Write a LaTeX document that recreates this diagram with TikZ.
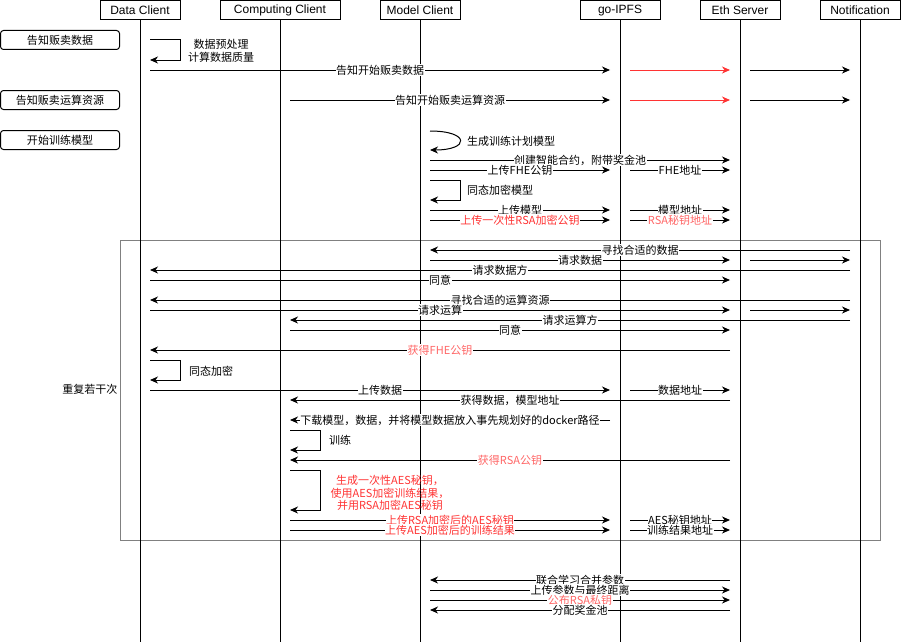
\documentclass[tikz,border=0pt]{standalone}
\usepackage{fontspec}
\setmainfont{Noto Sans CJK SC}
\newfontfamily\headfont{Liberation Sans}
\usetikzlibrary{arrows.meta}
\definecolor{msgred}{HTML}{FF3333}
\definecolor{msgpink}{HTML}{FF6666}
\definecolor{loopgray}{HTML}{808080}

\begin{document}
\begin{tikzpicture}[x=1pt,y=-1pt]
	\useasboundingbox (0,0) rectangle (901,642);
	\tikzstyle{actor}=[draw,line width=1pt,minimum width=80pt,minimum height=19pt,inner sep=0pt,font=\headfont\fontsize{12}{14}\selectfont]
	\tikzstyle{note}=[draw,rounded corners=3pt,line width=1pt,minimum width=119pt,minimum height=19pt,inner sep=0pt,font=\fontsize{11}{13}\selectfont]
	\tikzstyle{msg}=[line width=1pt,-{Stealth[length=8pt,width=7pt,inset=2.5pt]}]
	\tikzstyle{plain}=[line width=1pt]
	\tikzstyle{lbl}=[fill=white,inner sep=0.5pt,font=\fontsize{11}{13}\selectfont]
	\tikzstyle{side}=[inner sep=0pt,font=\fontsize{11}{13}\selectfont]
	% actors
	\node[actor] (dc) at (140,10.5) {Data Client};
	\node[actor,minimum width=120pt] (cc) at (280,10.5) {Computing Client};
	\node[actor] (mc) at (420,10.5) {Model Client};
	\node[actor] (ipfs) at (620,10.5) {go-IPFS};
	\node[actor] (eth) at (740,10.5) {Eth Server};
	\node[actor] (noti) at (860,10.5) {Notification};
	% notes on the left
	\node[note] (sell) at (60,40) {告知贩卖数据};
	\node[note] (sellres) at (60,100) {告知贩卖运算资源};
	\node[note] (train) at (60,140) {开始训练模型};
	% loop frame
	\node[draw=loopgray,line width=1pt,minimum width=760pt,minimum height=300pt,inner sep=0pt] (rep) at (500,390) {};
	\node[side,anchor=east] (repname) at ([xshift=-2pt,yshift=1pt]rep.west) {重复若干次};
	% lifelines
	\foreach \a in {dc,cc,mc,ipfs,eth,noti}
		\draw[plain] (\a.south) -- (\a.south |- 0,642);

	% selling data and resources
	\draw[msg] ([xshift=10]dc |- 0,40) -- ++(30,0) -- ++(0,20) -- ++(-30,0);
	\node[side,align=center] (prep) at (221,51) {数据预处理\\计算数据质量};
	\draw[msg] ([xshift=10]dc |- 0,70) -- node[lbl]{告知开始贩卖数据} ([xshift=-10]ipfs |- 0,70);
	\draw[msg,msgred] ([xshift=10]ipfs |- 0,70) -- ([xshift=-10]eth |- 0,70);
	\draw[msg] ([xshift=10]eth |- 0,70) -- ([xshift=-10]noti |- 0,70);
	\draw[msg] ([xshift=10]cc |- 0,100) -- node[lbl]{告知开始贩卖运算资源} ([xshift=-10]ipfs |- 0,100);
	\draw[msg,msgred] ([xshift=10]ipfs |- 0,100) -- ([xshift=-10]eth |- 0,100);
	\draw[msg] ([xshift=10]eth |- 0,100) -- ([xshift=-10]noti |- 0,100);

	% training plan
	\draw[msg] ([xshift=10]mc |- 0,131) .. controls +(40,0) and +(40,0) .. ([xshift=10]mc |- 0,150);
	\node[side,anchor=west] (plan) at (467,141) {生成训练计划模型};
	\draw[msg] ([xshift=10]mc |- 0,160) -- node[lbl]{创建智能合约，附带奖金池} ([xshift=-10]eth |- 0,160);
	\draw[msg] ([xshift=10]mc |- 0,170) -- node[lbl]{上传FHE公钥} ([xshift=-10]ipfs |- 0,170);
	\draw[msg] ([xshift=10]ipfs |- 0,170) -- node[lbl]{FHE地址} ([xshift=-10]eth |- 0,170);
	\draw[msg] ([xshift=10]mc |- 0,180) -- ++(30,0) -- ++(0,20) -- ++(-30,0);
	\node[side,anchor=west] (fhemodel) at (467,190) {同态加密模型};
	\draw[msg] ([xshift=10]mc |- 0,210) -- node[lbl]{上传模型} ([xshift=-10]ipfs |- 0,210);
	\draw[msg] ([xshift=10]ipfs |- 0,210) -- node[lbl]{模型地址} ([xshift=-10]eth |- 0,210);
	\draw[msg] ([xshift=10]mc |- 0,220) -- node[lbl,text=msgred]{上传一次性RSA加密公钥} ([xshift=-10]ipfs |- 0,220);
	\draw[msg] ([xshift=10]ipfs |- 0,220) -- node[lbl,text=msgpink]{RSA秘钥地址} ([xshift=-10]eth |- 0,220);

	% repeated part
	\draw[msg] ([xshift=-10]noti |- 0,250) -- node[lbl]{寻找合适的数据} ([xshift=10]mc |- 0,250);
	\draw[msg] ([xshift=10]mc |- 0,260) -- node[lbl]{请求数据} ([xshift=-10]eth |- 0,260);
	\draw[msg] ([xshift=10]eth |- 0,260) -- ([xshift=-10]noti |- 0,260);
	\draw[msg] ([xshift=-10]noti |- 0,270) -- node[lbl]{请求数据方} ([xshift=10]dc |- 0,270);
	\draw[msg] ([xshift=10]dc |- 0,280) -- node[lbl]{同意} ([xshift=-10]eth |- 0,280);
	\draw[msg] ([xshift=-10]noti |- 0,300) -- node[lbl]{寻找合适的运算资源} ([xshift=10]dc |- 0,300);
	\draw[msg] ([xshift=10]dc |- 0,310) -- node[lbl]{请求运算} ([xshift=-10]eth |- 0,310);
	\draw[msg] ([xshift=10]eth |- 0,310) -- ([xshift=-10]noti |- 0,310);
	\draw[msg] ([xshift=-10]noti |- 0,320) -- node[lbl]{请求运算方} ([xshift=10]cc |- 0,320);
	\draw[msg] ([xshift=10]cc |- 0,330) -- node[lbl]{同意} ([xshift=-10]eth |- 0,330);
	\draw[msg] ([xshift=-10]eth |- 0,350) -- node[lbl,text=msgpink]{获得FHE公钥} ([xshift=10]dc |- 0,350);
	\draw[msg] ([xshift=10]dc |- 0,360) -- ++(30,0) -- ++(0,20) -- ++(-30,0);
	\node[side,anchor=west] (fhedata) at (189,371) {同态加密};
	\draw[msg] ([xshift=10]dc |- 0,390) -- node[lbl]{上传数据} ([xshift=-10]ipfs |- 0,390);
	\draw[msg] ([xshift=10]ipfs |- 0,390) -- node[lbl]{数据地址} ([xshift=-10]eth |- 0,390);
	\draw[msg] ([xshift=-10]eth |- 0,400) -- node[lbl]{获得数据，模型地址} ([xshift=10]cc |- 0,400);
	\draw[msg] ([xshift=-10]ipfs |- 0,420) -- node[lbl]{下载模型，数据，并将模型数据放入事先规划好的docker路径} ([xshift=10]cc |- 0,420);
	\draw[msg] ([xshift=10]cc |- 0,430) -- ++(30,0) -- ++(0,20) -- ++(-30,0);
	\node[side,anchor=west] (dotrain) at (329,440) {训练};
	\draw[msg] ([xshift=-10]eth |- 0,460) -- node[lbl,text=msgpink]{获得RSA公钥} ([xshift=10]cc |- 0,460);
	\draw[msg] ([xshift=10]cc |- 0,470) -- ++(30,0) -- ++(0,40) -- ++(-30,0);
	\node[side,align=center,text=msgred,font=\fontsize{11}{12.5}\selectfont] (aes) at (390,493) {生成一次性AES秘钥，\\使用AES加密训练结果，\\并用RSA加密AES秘钥};
	\draw[msg] ([xshift=10]cc |- 0,520) -- node[lbl,text=msgred]{上传RSA加密后的AES秘钥} ([xshift=-10]ipfs |- 0,520);
	\draw[msg] ([xshift=10]ipfs |- 0,520) -- node[lbl]{AES秘钥地址} ([xshift=-10]eth |- 0,520);
	\draw[msg] ([xshift=10]cc |- 0,530) -- node[lbl,text=msgred]{上传AES加密后的训练结果} ([xshift=-10]ipfs |- 0,530);
	\draw[msg] ([xshift=10]ipfs |- 0,530) -- node[lbl]{训练结果地址} ([xshift=-10]eth |- 0,530);

	% finishing
	\draw[msg] ([xshift=-10]eth |- 0,580) -- node[lbl]{联合学习合并参数} ([xshift=10]mc |- 0,580);
	\draw[msg] ([xshift=10]mc |- 0,590) -- node[lbl]{上传参数与最终距离} ([xshift=-10]eth |- 0,590);
	\draw[msg] ([xshift=10]mc |- 0,600) -- node[lbl,text=msgpink]{公布RSA私钥} ([xshift=-10]eth |- 0,600);
	\draw[msg] ([xshift=-10]eth |- 0,610) -- node[lbl]{分配奖金池} ([xshift=10]mc |- 0,610);
\end{tikzpicture}
\end{document}
